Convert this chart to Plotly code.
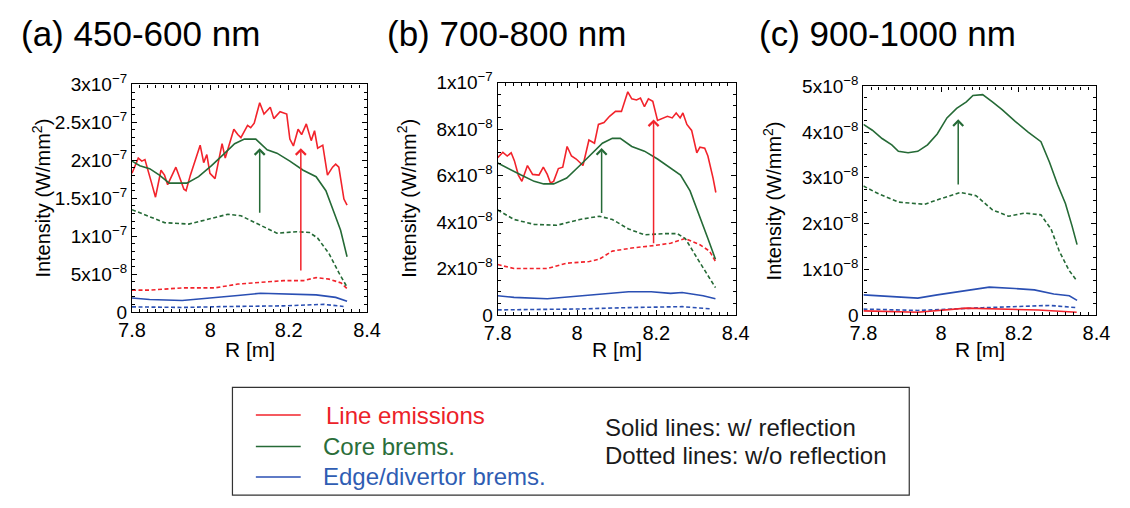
import plotly.graph_objects as go

# ---------------- data: radial intensity profiles ----------------
# (a) 450-600 nm
a_line_R = [7.800, 7.816, 7.825, 7.833, 7.849, 7.860, 7.874, 7.883, 7.891, 7.912, 7.924, 7.9325, 7.938,
            7.949, 7.974, 7.983, 7.991, 7.999, 8.012, 8.020, 8.030, 8.038, 8.060, 8.070, 8.078, 8.095,
            8.103, 8.112, 8.126, 8.137, 8.153, 8.162, 8.178, 8.195, 8.203, 8.212, 8.224, 8.233, 8.245,
            8.2575, 8.266, 8.274, 8.287, 8.299, 8.312, 8.320, 8.328, 8.341, 8.349]
a_line_I = [1.83e-7, 2.03e-7, 1.99e-7, 2.01e-7, 1.72e-7, 1.515e-7, 1.87e-7, 1.805e-7, 1.68e-7, 1.91e-7,
            1.74e-7, 1.62e-7, 1.60e-7, 1.805e-7, 2.20e-7, 1.97e-7, 2.075e-7, 1.83e-7, 1.76e-7, 1.95e-7,
            2.22e-7, 2.03e-7, 2.41e-7, 2.34e-7, 2.30e-7, 2.46e-7, 2.43e-7, 2.49e-7, 2.76e-7, 2.61e-7,
            2.70e-7, 2.55e-7, 2.64e-7, 2.61e-7, 2.28e-7, 2.19e-7, 2.41e-7, 2.34e-7, 2.48e-7, 2.26e-7,
            2.39e-7, 2.16e-7, 2.20e-7, 1.805e-7, 1.91e-7, 1.95e-7, 1.91e-7, 1.49e-7, 1.41e-7]
a_line_dot_R = [7.800, 7.845, 7.928, 8.012, 8.070, 8.137, 8.187, 8.237, 8.270, 8.303, 8.334, 8.349]
a_line_dot_I = [2.9e-8, 2.9e-8, 3.2e-8, 3.2e-8, 3.7e-8, 4.0e-8, 4.15e-8, 4.15e-8, 4.55e-8, 4.35e-8, 3.85e-8, 3.1e-8]
a_core_R = [7.800, 7.820, 7.845, 7.870, 7.895, 7.940, 7.970, 8.003, 8.037, 8.062, 8.087, 8.116, 8.145,
            8.170, 8.203, 8.237, 8.270, 8.295, 8.316, 8.3325, 8.349]
a_core_I = [1.99e-7, 1.93e-7, 1.89e-7, 1.805e-7, 1.70e-7, 1.70e-7, 1.785e-7, 1.93e-7, 2.095e-7, 2.22e-7,
            2.28e-7, 2.28e-7, 2.14e-7, 2.095e-7, 1.99e-7, 1.87e-7, 1.785e-7, 1.60e-7, 1.31e-7, 1.08e-7, 7.3e-8]
a_core_dot_R = [7.800, 7.837, 7.883, 7.945, 7.995, 8.045, 8.078, 8.120, 8.170, 8.220, 8.253, 8.274, 8.303, 8.328, 8.349]
a_core_dot_I = [1.35e-7, 1.27e-7, 1.18e-7, 1.16e-7, 1.22e-7, 1.29e-7, 1.27e-7, 1.16e-7, 1.04e-7, 1.06e-7,
                1.05e-7, 9.75e-8, 7.7e-8, 5.2e-8, 3.3e-8]
a_edge_R = [7.800, 7.845, 7.928, 8.012, 8.070, 8.128, 8.195, 8.270, 8.320, 8.349]
a_edge_I = [1.87e-8, 1.66e-8, 1.53e-8, 1.87e-8, 2.2e-8, 2.49e-8, 2.37e-8, 2.28e-8, 1.95e-8, 1.45e-8]
a_edge_dot_R = [7.800, 7.928, 8.050, 8.187, 8.290, 8.340]
a_edge_dot_I = [7.0e-9, 6.2e-9, 7.5e-9, 8.3e-9, 1.03e-8, 7.5e-9]

# (b) 700-800 nm
b_line_R = [7.800, 7.813, 7.824, 7.834, 7.842, 7.852, 7.861, 7.875, 7.888, 7.904, 7.915, 7.925, 7.933,
            7.941, 7.953, 7.964, 7.975, 7.986, 7.998, 8.015, 8.030, 8.044, 8.054, 8.068, 8.082, 8.097,
            8.112, 8.128, 8.138, 8.150, 8.160, 8.170, 8.180, 8.191, 8.203, 8.215, 8.228, 8.240, 8.250,
            8.260, 8.267, 8.277, 8.289, 8.302, 8.310, 8.322, 8.330, 8.343, 8.350]
b_line_I = [6.77e-8, 7.0e-8, 6.84e-8, 6.98e-8, 6.64e-8, 6.02e-8, 5.75e-8, 6.43e-8, 6.05e-8, 6.02e-8,
            6.36e-8, 6.05e-8, 5.68e-8, 5.75e-8, 6.30e-8, 6.36e-8, 7.25e-8, 6.84e-8, 6.71e-8, 6.43e-8,
            7.53e-8, 7.39e-8, 8.20e-8, 8.28e-8, 8.55e-8, 8.76e-8, 8.76e-8, 9.60e-8, 9.30e-8, 9.25e-8,
            9.33e-8, 8.96e-8, 9.30e-8, 9.19e-8, 8.37e-8, 8.45e-8, 8.55e-8, 8.48e-8, 8.69e-8, 8.48e-8,
            8.69e-8, 8.20e-8, 7.94e-8, 6.98e-8, 7.22e-8, 7.18e-8, 6.84e-8, 5.89e-8, 5.27e-8]
b_line_dot_R = [7.800, 7.841, 7.925, 7.974, 8.031, 8.056, 8.089, 8.138, 8.195, 8.236, 8.273, 8.310, 8.334, 8.349]
b_line_dot_I = [2.17e-8, 2.0e-8, 2.0e-8, 2.23e-8, 2.3e-8, 2.4e-8, 2.75e-8, 2.88e-8, 2.99e-8, 3.09e-8,
                3.29e-8, 3.02e-8, 2.75e-8, 2.31e-8]
b_core_R = [7.800, 7.826, 7.859, 7.892, 7.916, 7.941, 7.974, 8.007, 8.039, 8.064, 8.089, 8.109, 8.138,
            8.170, 8.203, 8.236, 8.261, 8.285, 8.310, 8.330, 8.349]
b_core_I = [6.54e-8, 6.3e-8, 6.02e-8, 5.75e-8, 5.64e-8, 5.64e-8, 5.89e-8, 6.43e-8, 6.98e-8, 7.39e-8,
            7.6e-8, 7.6e-8, 7.25e-8, 7.05e-8, 6.71e-8, 6.3e-8, 6.02e-8, 5.34e-8, 4.25e-8, 3.29e-8, 2.4e-8]
b_core_dot_R = [7.800, 7.841, 7.892, 7.949, 8.007, 8.056, 8.089, 8.130, 8.170, 8.220, 8.253, 8.273, 8.302, 8.326, 8.349]
b_core_dot_I = [4.52e-8, 4.11e-8, 3.9e-8, 3.86e-8, 4.11e-8, 4.25e-8, 4.11e-8, 3.7e-8, 3.45e-8, 3.5e-8,
                3.5e-8, 3.29e-8, 2.47e-8, 1.79e-8, 1.18e-8]
b_edge_R = [7.800, 7.841, 7.925, 8.007, 8.089, 8.130, 8.187, 8.236, 8.265, 8.318, 8.349]
b_edge_I = [8.3e-9, 7.6e-9, 7.0e-9, 8.1e-9, 9.4e-9, 1.0e-8, 1.0e-8, 9.3e-9, 9.7e-9, 8.3e-9, 7.0e-9]
b_edge_dot_R = [7.800, 8.007, 8.130, 8.265, 8.340]
b_edge_dot_I = [2.2e-9, 2.6e-9, 3.2e-9, 3.6e-9, 2.6e-9]

# (c) 900-1000 nm
c_line_R = [7.800, 7.864, 7.940, 8.065, 8.150, 8.250, 8.349]
c_line_I = [9e-10, 8e-10, 6e-10, 1.5e-9, 1.3e-9, 1.1e-9, 6e-10]
c_core_R = [7.800, 7.823, 7.848, 7.873, 7.890, 7.915, 7.940, 7.965, 7.990, 8.015, 8.040, 8.065, 8.082,
            8.107, 8.132, 8.157, 8.190, 8.224, 8.257, 8.279, 8.300, 8.320, 8.337, 8.350]
c_core_I = [4.17e-8, 4.04e-8, 3.86e-8, 3.72e-8, 3.58e-8, 3.55e-8, 3.58e-8, 3.72e-8, 3.96e-8, 4.31e-8,
            4.52e-8, 4.66e-8, 4.80e-8, 4.82e-8, 4.66e-8, 4.49e-8, 4.24e-8, 4.0e-8, 3.79e-8, 3.34e-8,
            2.85e-8, 2.44e-8, 1.95e-8, 1.54e-8]
c_core_dot_R = [7.800, 7.839, 7.890, 7.957, 7.998, 8.049, 8.090, 8.132, 8.174, 8.216, 8.257, 8.283, 8.304, 8.329, 8.350]
c_core_dot_I = [2.82e-8, 2.65e-8, 2.47e-8, 2.42e-8, 2.54e-8, 2.68e-8, 2.61e-8, 2.3e-8, 2.16e-8, 2.23e-8,
                2.19e-8, 1.88e-8, 1.4e-8, 9.8e-9, 7.4e-9]
c_edge_R = [7.800, 7.864, 7.940, 7.990, 8.065, 8.124, 8.190, 8.240, 8.290, 8.330, 8.350]
c_edge_I = [4.4e-9, 4.1e-9, 3.7e-9, 4.4e-9, 5.3e-9, 6.1e-9, 5.8e-9, 5.5e-9, 4.6e-9, 4.2e-9, 3.2e-9]
c_edge_dot_R = [7.800, 7.940, 8.107, 8.280, 8.350]
c_edge_dot_I = [1.3e-9, 1.0e-9, 1.6e-9, 2.1e-9, 1.6e-9]

# arrows: (R, tail intensity, head intensity)
a_arrow_core = (8.126, 1.29e-7, 2.16e-7)
a_arrow_line = (8.231, 5.3e-8, 2.16e-7)
b_arrow_core = (8.062, 4.32e-8, 7.18e-8)
b_arrow_line = (8.193, 3.02e-8, 8.41e-8)
c_arrow_core = (8.044, 2.82e-8, 4.28e-8)

# tick labels
r_ticks = [7.8, 8.0, 8.2, 8.4]
r_labels = ["7.8", "8", "8.2", "8.4"]
a_yticks = [0, 5e-8, 1e-7, 1.5e-7, 2e-7, 2.5e-7, 3e-7]
a_ylabels = ["0", "5x10<sup>\u22128</sup>", "1x10<sup>\u22127</sup>", "1.5x10<sup>\u22127</sup>",
             "2x10<sup>\u22127</sup>", "2.5x10<sup>\u22127</sup>", "3x10<sup>\u22127</sup>"]
b_yticks = [0, 2e-8, 4e-8, 6e-8, 8e-8, 1e-7]
b_ylabels = ["0", "2x10<sup>\u22128</sup>", "4x10<sup>\u22128</sup>", "6x10<sup>\u22128</sup>",
             "8x10<sup>\u22128</sup>", "1x10<sup>\u22127</sup>"]
c_yticks = [0, 1e-8, 2e-8, 3e-8, 4e-8, 5e-8]
c_ylabels = ["0", "1x10<sup>\u22128</sup>", "2x10<sup>\u22128</sup>", "3x10<sup>\u22128</sup>",
             "4x10<sup>\u22128</sup>", "5x10<sup>\u22128</sup>"]

panel_titles = ["(a) 450-600 nm", "(b) 700-800 nm", "(c) 900-1000 nm"]
legend_names = ["Line emissions", "Core brems.", "Edge/divertor brems."]
legend_notes = ["Solid lines: w/ reflection", "Dotted lines: w/o reflection"]

# ---------------- styling ----------------
W, H = 1130, 508
FONT = "Liberation Sans, Arial, Helvetica, sans-serif"
RED, GREEN, BLUE = "#f2232b", "#256a36", "#2a4fb3"
TXT_RED, TXT_GREEN, TXT_BLUE = "#ec2229", "#2a6e3a", "#2f5db3"
DOT = "4px,2.5px"


def fx(px):
    return px / W


def fy(py):
    return 1 - py / H


# plot boxes in pixels: left, right, top, bottom
boxes = [(121, 362, 75, 314), (496, 740, 73, 317), (871, 1110, 77, 317)]
yranges = [3e-7, 1e-7, 5e-8]
yminor = [1e-8, 5e-9, 2.5e-9]
yticks = [(a_yticks, a_ylabels), (b_yticks, b_ylabels), (c_yticks, c_ylabels)]

fig = go.Figure()

panels = [
    [(a_line_R, a_line_I, RED, "solid"), (a_line_dot_R, a_line_dot_I, RED, DOT),
     (a_core_R, a_core_I, GREEN, "solid"), (a_core_dot_R, a_core_dot_I, GREEN, DOT),
     (a_edge_R, a_edge_I, BLUE, "solid"), (a_edge_dot_R, a_edge_dot_I, BLUE, DOT)],
    [(b_line_R, b_line_I, RED, "solid"), (b_line_dot_R, b_line_dot_I, RED, DOT),
     (b_core_R, b_core_I, GREEN, "solid"), (b_core_dot_R, b_core_dot_I, GREEN, DOT),
     (b_edge_R, b_edge_I, BLUE, "solid"), (b_edge_dot_R, b_edge_dot_I, BLUE, DOT)],
    [(c_edge_R, c_edge_I, BLUE, "solid"), (c_edge_dot_R, c_edge_dot_I, BLUE, DOT),
     (c_line_R, c_line_I, RED, "solid"),
     (c_core_R, c_core_I, GREEN, "solid"), (c_core_dot_R, c_core_dot_I, GREEN, DOT)],
]
arrows = [[(a_arrow_core, GREEN), (a_arrow_line, RED)],
          [(b_arrow_core, GREEN), (b_arrow_line, RED)],
          [(c_arrow_core, GREEN)]]

annotations = []
for i, series in enumerate(panels):
    sfx = "" if i == 0 else str(i + 1)
    xa, ya = "x" + sfx, "y" + sfx
    for R, I, col, dash in series:
        fig.add_trace(go.Scatter(x=R, y=I, mode="lines", xaxis=xa, yaxis=ya,
                                 line=dict(color=col, width=1.6, dash=dash),
                                 showlegend=False, hoverinfo="skip"))
    l, r, t, b = boxes[i]
    axis_common = dict(showline=True, linecolor="black", linewidth=1.3, mirror="ticks",
                       ticks="inside", ticklen=5, tickwidth=1, tickcolor="black",
                       showgrid=False, zeroline=False)
    fig.update_layout(**{
        "xaxis" + sfx: dict(axis_common, domain=[fx(l), fx(r)], anchor=ya, range=[7.8, 8.4],
                            tickvals=r_ticks, ticktext=r_labels,
                            tickfont=dict(family=FONT, size=20, color="black"),
                            minor=dict(dtick=0.02, ticks="inside", ticklen=3, tickcolor="black")),
        "yaxis" + sfx: dict(axis_common, domain=[fy(b), fy(t)], anchor=xa, range=[0, yranges[i]],
                            tickvals=yticks[i][0], ticktext=yticks[i][1],
                            tickfont=dict(family=FONT, size=19, color="black"),
                            minor=dict(dtick=yminor[i], tick0=0, ticks="inside", ticklen=3,
                                       tickcolor="black")),
    })
    for (R0, I_tail, I_head), col in arrows[i]:
        annotations.append(dict(x=R0, y=I_head, ax=R0, ay=I_tail, xref=xa, yref=ya,
                                axref=xa, ayref=ya, showarrow=True, arrowhead=4,
                                arrowsize=1.3, arrowwidth=1.5, arrowcolor=col, text="",
                                standoff=0, startstandoff=0))
    # axis titles
    annotations.append(dict(x=fx((l + r) / 2), y=fy(353), xref="paper", yref="paper",
                            text="R [m]", showarrow=False, xanchor="center", yanchor="middle",
                            font=dict(family=FONT, size=21, color="black")))
    annotations.append(dict(x=fx(l - 93), y=fy((t + b) / 2), xref="paper", yref="paper",
                            text="Intensity (W/mm<sup>2</sup>)", showarrow=False, textangle=-90,
                            xanchor="center", yanchor="middle",
                            font=dict(family=FONT, size=20, color="black")))

# panel titles
for px, title in zip([5, 380, 762], panel_titles):
    annotations.append(dict(x=fx(px), y=fy(22), xref="paper", yref="paper", text=title,
                            showarrow=False, xanchor="left", yanchor="middle",
                            font=dict(family=FONT, size=35, color="black")))

# legend box
shapes = [dict(type="rect", xref="paper", yref="paper", x0=fx(224), x1=fx(918), y0=fy(506), y1=fy(393),
               line=dict(color="#333333", width=1.2), fillcolor="rgba(0,0,0,0)")]
for py, col, tcol, name, tx in zip([422, 455, 487], [RED, GREEN, BLUE], [TXT_RED, TXT_GREEN, TXT_BLUE],
                                   legend_names, [318, 315, 315]):
    shapes.append(dict(type="line", xref="paper", yref="paper", x0=fx(248), x1=fx(294), y0=fy(py), y1=fy(py),
                       line=dict(color=col, width=1.6)))
    annotations.append(dict(x=fx(tx), y=fy(py), xref="paper", yref="paper", text=name, showarrow=False,
                            xanchor="left", yanchor="middle", font=dict(family=FONT, size=24, color=tcol)))
for py, note in zip([435, 464], legend_notes):
    annotations.append(dict(x=fx(604), y=fy(py), xref="paper", yref="paper", text=note, showarrow=False,
                            xanchor="left", yanchor="middle", font=dict(family=FONT, size=24, color="#1a1a1a")))

fig.update_layout(width=W, height=H, margin=dict(l=0, r=0, t=0, b=0),
                  paper_bgcolor="white", plot_bgcolor="white",
                  annotations=annotations, shapes=shapes, showlegend=False)

fig.write_html("out.html")
